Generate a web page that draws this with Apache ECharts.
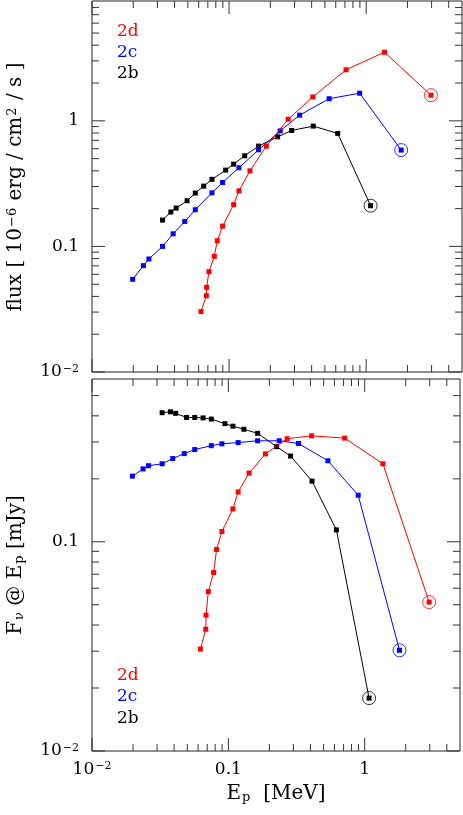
<!DOCTYPE html>
<html>
<head>
<meta charset="utf-8">
<script src="https://cdn.jsdelivr.net/npm/echarts@6/dist/echarts.min.js"></script>
<style>
html, body { margin: 0; padding: 0; background: #fff; }
#main { width: 463px; height: 815px; }
</style>
</head>
<body>
<div id="main"></div>
<script>
// peak energy Ep [MeV]
var ep2d = [0.0624, 0.0683, 0.0686, 0.0713, 0.078, 0.082, 0.0897, 0.108, 0.118, 0.142, 0.187, 0.270, 0.408, 0.713, 1.36, 2.97];
var ep2c = [0.0198, 0.0237, 0.026, 0.0327, 0.0391, 0.0475, 0.0567, 0.075, 0.0897, 0.118, 0.164, 0.236, 0.327, 0.537, 0.896, 1.80];
var ep2b = [0.0327, 0.0376, 0.0411, 0.0494, 0.0567, 0.0653, 0.075, 0.0944, 0.108, 0.130, 0.164, 0.226, 0.286, 0.411, 0.620, 1.077];

// flux [1e-6 erg/cm2/s]
var flux2d = [0.0303, 0.0405, 0.0472, 0.0629, 0.0834, 0.111, 0.145, 0.215, 0.277, 0.400, 0.629, 1.03, 1.55, 2.55, 3.52, 1.60];
var flux2c = [0.0547, 0.0703, 0.0794, 0.100, 0.126, 0.158, 0.196, 0.267, 0.323, 0.423, 0.588, 0.832, 1.11, 1.50, 1.66, 0.585];
var flux2b = [0.162, 0.188, 0.202, 0.231, 0.266, 0.302, 0.342, 0.405, 0.452, 0.527, 0.629, 0.746, 0.838, 0.908, 0.794, 0.211];

// F_nu at Ep [mJy]
var fnu2d = [0.0307, 0.0382, 0.0446, 0.0578, 0.0713, 0.0919, 0.112, 0.1435, 0.173, 0.213, 0.263, 0.311, 0.321, 0.313, 0.236, 0.0515];
var fnu2c = [0.206, 0.223, 0.231, 0.236, 0.250, 0.264, 0.276, 0.288, 0.294, 0.298, 0.304, 0.304, 0.295, 0.244, 0.167, 0.0303];
var fnu2b = [0.414, 0.418, 0.411, 0.393, 0.393, 0.391, 0.386, 0.367, 0.357, 0.345, 0.330, 0.285, 0.257, 0.195, 0.114, 0.0179];

var names = ['2d', '2c', '2b'];
var colors = ['#ff0000', '#0000ff', '#000000'];

// tick values
var xMajor = [0.01, 0.1, 1];
var xMinor = [0.02, 0.03, 0.04, 0.05, 0.06, 0.07, 0.08, 0.09, 0.2, 0.3, 0.4, 0.5, 0.6, 0.7, 0.8, 0.9, 2, 3, 4];
var topMajor = [0.01, 0.1, 1];
var topMinor = [0.02, 0.03, 0.04, 0.05, 0.06, 0.07, 0.08, 0.09, 0.2, 0.3, 0.4, 0.5, 0.6, 0.7, 0.8, 0.9, 2, 3, 4, 5, 6, 7, 8];
var botMajor = [0.01, 0.1];
var botMinor = [0.02, 0.03, 0.04, 0.05, 0.06, 0.07, 0.08, 0.09, 0.2, 0.3, 0.4, 0.5];

var xMin = 0.01, xMax = 5;
var topMin = 0.01, topMax = 9;
var botMin = 0.01, botMax = 0.6;

var FONT = 'DejaVu Serif';
var rich = {
    sup: { fontFamily: FONT, fontSize: 11, verticalAlign: 'top', lineHeight: 12, padding: [0, 0, 0, 1] },
    sup2: { fontFamily: FONT, fontSize: 13, verticalAlign: 'top', lineHeight: 13, padding: [0, 1, 0, 1] },
    sub: { fontFamily: FONT, fontSize: 13, verticalAlign: 'bottom', lineHeight: 13, padding: [10, 0, 0, 1] }
};

function decadeLabel(v) {
    var l = Math.log10(v), e = Math.round(l);
    if (Math.abs(l - e) > 1e-6) return '';
    if (e === -2) return '10{sup|\u22122}';
    if (e === -1) return '0.1';
    if (e === 0) return '1';
    return '';
}

function zip(a, b) {
    return a.map(function (v, i) { return [v, b[i]]; });
}

function tickSeries(g, dir, values, len, lo) {
    return {
        type: 'custom', xAxisIndex: g, yAxisIndex: g, silent: true, clip: false, z: 1,
        data: values.map(function (v) { return dir === 'x' ? [v, lo] : [lo, v]; }),
        renderItem: function (params, api) {
            var r = params.coordSys;
            var p = api.coord([api.value(0), api.value(1)]);
            var segs;
            if (dir === 'x') {
                var b = r.y + r.height;
                segs = [[p[0], b, p[0], b - len], [p[0], r.y, p[0], r.y + len]];
            } else {
                var rr = r.x + r.width;
                segs = [[r.x, p[1], r.x + len, p[1]], [rr, p[1], rr - len, p[1]]];
            }
            return {
                type: 'group',
                children: segs.map(function (s) {
                    return { type: 'line', shape: { x1: s[0], y1: s[1], x2: s[2], y2: s[3] }, style: { stroke: '#333', lineWidth: 1 } };
                })
            };
        }
    };
}

var series = [];
var eps = [ep2d, ep2c, ep2b];
var tops = [flux2d, flux2c, flux2b];
var bots = [fnu2d, fnu2c, fnu2b];
[0, 1].forEach(function (g) {
    var ys = g === 0 ? tops : bots;
    for (var i = 0; i < 3; i++) {
        var d = zip(eps[i], ys[i]);
        series.push({
            name: names[i], type: 'line', xAxisIndex: g, yAxisIndex: g,
            data: d, symbol: 'rect', symbolSize: 5,
            itemStyle: { color: colors[i] },
            lineStyle: { color: colors[i], width: 1 },
            z: 3 - i, animation: false
        });
        series.push({
            type: 'scatter', xAxisIndex: g, yAxisIndex: g,
            data: [d[d.length - 1]], symbol: 'circle', symbolSize: 13,
            itemStyle: { color: 'rgba(0,0,0,0)', borderColor: colors[i], borderWidth: 1 },
            z: 2, animation: false
        });
    }
});
series.push(tickSeries(0, 'x', xMajor, 13, topMin));
series.push(tickSeries(0, 'x', xMinor, 7, topMin));
series.push(tickSeries(0, 'y', topMajor, 13, xMin));
series.push(tickSeries(0, 'y', topMinor, 7, xMin));
series.push(tickSeries(1, 'x', xMajor, 13, botMin));
series.push(tickSeries(1, 'x', xMinor, 7, botMin));
series.push(tickSeries(1, 'y', botMajor, 13, xMin));
series.push(tickSeries(1, 'y', botMinor, 7, xMin));

function xAxis(g, labels) {
    return {
        type: 'log', logBase: 10, gridIndex: g, min: xMin, max: xMax,
        axisLine: { show: false }, axisTick: { show: false }, splitLine: { show: false },
        axisLabel: { show: labels, margin: 10, formatter: decadeLabel, color: '#000', fontFamily: FONT, fontSize: 17, rich: rich },
        name: labels ? 'E{sub|p}  [MeV]' : '', nameLocation: 'middle', nameGap: 33,
        nameTextStyle: { color: '#000', fontFamily: FONT, fontSize: 20, rich: rich }
    };
}
function yAxis(g, lo, hi) {
    return {
        type: 'log', logBase: 10, gridIndex: g, min: lo, max: hi,
        axisLine: { show: false }, axisTick: { show: false }, splitLine: { show: false },
        axisLabel: { margin: 13, formatter: decadeLabel, color: '#000', fontFamily: FONT, fontSize: 17, rich: rich }
    };
}

var graphics = [];
[[33, 54, 75], [677, 698, 720]].forEach(function (ys) {
    for (var i = 0; i < 3; i++) {
        graphics.push({
            type: 'text', left: 117, top: ys[i] - 10,
            style: { text: names[i], fill: colors[i], font: '17px "' + FONT + '"' }
        });
    }
});
// rotated y-axis titles
[['flux [ 10{sup2|\u22126} erg / cm{sup2|2} / s ]', 187], ['F{sub|\u03bd} @ E{sub|p} [mJy]', 565]].forEach(function (t) {
    graphics.push({
        type: 'text', x: 16, y: t[1], rotation: Math.PI / 2,
        style: {
            text: t[0], fill: '#000', fontFamily: FONT, fontSize: 20,
            align: 'center', verticalAlign: 'middle', rich: rich
        }
    });
});

var myChart = echarts.init(document.getElementById('main'), null, { renderer: 'canvas' });
myChart.setOption({
    backgroundColor: '#fff',
    animation: false,
    grid: [
        { left: 92, right: 1, top: 1, height: 371, show: true, borderColor: '#222', borderWidth: 1, backgroundColor: 'transparent' },
        { left: 92, right: 1, top: 379, height: 372, show: true, borderColor: '#222', borderWidth: 1, backgroundColor: 'transparent' }
    ],
    xAxis: [xAxis(0, false), xAxis(1, true)],
    yAxis: [yAxis(0, topMin, topMax), yAxis(1, botMin, botMax)],
    graphic: graphics,
    series: series
});
</script>
</body>
</html>
